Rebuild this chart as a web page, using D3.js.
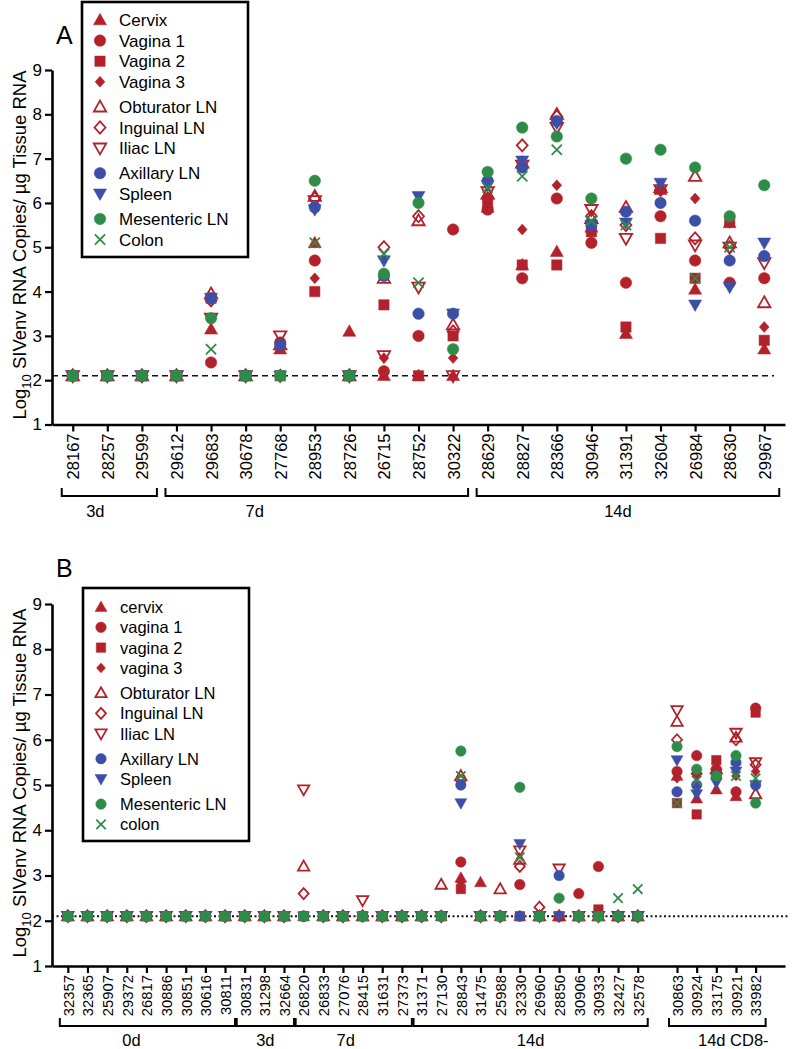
<!DOCTYPE html>
<html>
<head>
<meta charset="utf-8">
<title>SIVenv RNA in tissues</title>
<script src="https://d3js.org/d3.v7.min.js"></script>
<style>
    body { margin:0; background:#fff; }
    svg { display:block; font-family:"Liberation Sans", Arial, Helvetica, sans-serif; }
</style>
</head>
<body>
<svg id="chart" width="797" height="1049"></svg>
<script>

// ---------- data: panel A ----------
const idsA = ['28167','28257','29599',
              '29612','29683','30678','27768','28953','28726','26715','28752','30322',
              '28629','28827','28366','30946','31391','32604','26984','28630','29967'];
const groupLabelsA = ['3d', '7d', '14d'];
const groupFirstA  = ['28167', '29612', '28629'];
const groupLastA   = ['29599', '30322', '29967'];
const tissuesA = ['Cervix','Vagina 1','Vagina 2','Vagina 3','Obturator LN','Inguinal LN',
                  'Iliac LN','Axillary LN','Spleen','Mesenteric LN','Colon'];

const cervixA     = [2.1,2.1,2.1, 2.1,3.15,2.1,2.7,5.1,3.1,2.1,2.1,2.1,  5.9,4.6,4.9,5.45,3.05,6.3,4.05,5.55,2.7];
const vagina1A    = [2.1,2.1,2.1, 2.1,2.4,2.1,2.85,4.7,2.1,2.2,3.0,5.4,  5.85,4.3,6.1,5.1,4.2,5.7,4.7,4.2,4.3];
const vagina2A    = [2.1,2.1,2.1, 2.1,3.85,2.1,2.1,4.0,2.1,3.7,2.1,3.0,  6.0,4.6,4.6,5.35,3.2,5.2,4.3,5.6,2.9];
const vagina3A    = [2.1,2.1,2.1, 2.1,3.85,2.1,2.1,4.3,2.1,2.5,3.0,2.5,  6.1,5.4,6.4,5.45,3.2,6.3,6.1,5.55,3.2];
const obturatorA  = [2.1,2.1,2.1, 2.1,3.95,2.1,2.8,6.15,2.1,4.3,5.6,3.25, 6.2,6.9,8.0,5.65,5.9,6.35,6.6,5.1,3.75];
const inguinalA   = [2.1,2.1,2.1, 2.1,3.8,2.1,2.1,6.1,2.1,5.0,5.7,3.1,  6.1,7.3,7.95,5.7,5.5,6.3,5.2,5.0,null];
const iliacA      = [2.1,2.1,2.1, 2.1,3.4,2.1,3.0,6.05,2.1,2.55,4.1,2.1, 6.25,6.85,7.7,5.85,5.2,6.3,5.05,5.0,4.65];
const axillaryA   = [2.1,2.1,2.1, 2.1,3.85,2.1,2.8,5.9,2.1,4.35,3.5,3.5, 6.5,6.8,7.85,5.5,5.8,6.0,5.6,4.7,4.8];
const spleenA     = [2.1,2.1,2.1, 2.1,3.85,2.1,2.1,5.85,2.1,4.7,6.15,3.5, 6.4,6.95,7.8,5.5,5.55,6.45,3.7,4.1,5.1];
const mesentericA = [2.1,2.1,2.1, 2.1,3.4,2.1,2.1,6.5,2.1,4.4,6.0,2.7,  6.7,7.7,7.5,6.1,7.0,7.2,6.8,5.7,6.4];
const colonA      = [2.1,2.1,2.1, 2.1,2.7,2.1,2.1,5.1,2.1,4.85,4.2,null, 6.35,6.6,7.2,5.6,5.5,null,4.3,5.0,null];

// ---------- data: panel B ----------
const idsB = ['32357','32365','25907','29372','26817','30886','30851','30616','30811',
              '30831','31298','32664',
              '26820','26833','27076','28415','31631','27373',
              '31371','27130','28843','31475','25988','32330','26960','28850','30906','30933','32427','32578',
              '30863','30924','33175','30921','33982'];
const groupLabelsB = ['0d', '3d', '7d', '14d', '14d CD8-'];
const groupFirstB  = ['32357', '30831', '26820', '31371', '30863'];
const groupLastB   = ['30811', '32664', '27373', '32578', '33982'];
const tissuesB = ['cervix','vagina 1','vagina 2','vagina 3','Obturator LN','Inguinal LN',
                  'Iliac LN','Axillary LN','Spleen','Mesenteric LN','colon'];

const cervixB = [2.1,2.1,2.1,2.1,2.1,2.1,2.1,2.1,2.1, 2.1,2.1,2.1, 2.1,2.1,2.1,2.1,2.1,2.1,
    2.1,2.1,2.95,2.85,2.1,2.1,2.1,2.1,2.1,2.1,2.1,2.1, 5.2,4.7,4.9,4.75,null];
const vagina1B = [2.1,2.1,2.1,2.1,2.1,2.1,2.1,2.1,2.1, 2.1,2.1,2.1, 2.1,2.1,2.1,2.1,2.1,2.1,
    2.1,2.1,3.3,2.1,2.1,2.8,2.1,2.1,2.6,3.2,2.1,2.1, 5.3,5.65,5.35,4.85,6.7];
const vagina2B = [2.1,2.1,2.1,2.1,2.1,2.1,2.1,2.1,2.1, 2.1,2.1,2.1, 2.1,2.1,2.1,2.1,2.1,2.1,
    2.1,2.1,2.7,2.1,2.1,2.1,2.1,2.1,2.1,2.25,2.1,2.1, 4.6,4.35,5.55,null,6.6];
const vagina3B = [2.1,2.1,2.1,2.1,2.1,2.1,2.1,2.1,2.1, 2.1,2.1,2.1, 2.1,2.1,2.1,2.1,2.1,2.1,
    2.1,2.1,2.85,2.1,2.1,2.1,2.1,2.1,2.1,2.1,2.1,2.1, 5.15,5.25,5.35,5.2,5.3];
const obturatorB = [2.1,2.1,2.1,2.1,2.1,2.1,2.1,2.1,2.1, 2.1,2.1,2.1, 3.2,2.1,2.1,2.1,2.1,2.1,
    2.1,2.8,5.2,2.1,2.7,3.35,2.1,2.1,2.1,2.1,2.1,2.1, 6.4,null,5.35,6.05,4.8];
const inguinalB = [2.1,2.1,2.1,2.1,2.1,2.1,2.1,2.1,2.1, 2.1,2.1,2.1, 2.6,2.1,2.1,2.1,2.1,2.1,
    2.1,2.1,5.1,2.1,2.1,3.2,2.3,2.1,2.1,2.1,2.1,2.1, 6.0,5.25,5.35,6.0,5.45];
const iliacB = [2.1,2.1,2.1,2.1,2.1,2.1,2.1,2.1,2.1, 2.1,2.1,2.1, 4.9,2.1,2.1,2.45,2.1,2.1,
    2.1,2.1,null,2.1,2.1,3.55,2.1,3.15,2.1,2.1,2.1,2.1, 6.65,null,null,6.15,5.5];
const axillaryB = [2.1,2.1,2.1,2.1,2.1,2.1,2.1,2.1,2.1, 2.1,2.1,2.1, 2.1,2.1,2.1,2.1,2.1,2.1,
    2.1,2.1,5.0,2.1,2.1,2.1,2.1,3.0,2.1,2.1,2.1,2.1, 4.85,5.0,5.2,5.5,5.0];
const spleenB = [2.1,2.1,2.1,2.1,2.1,2.1,2.1,2.1,2.1, 2.1,2.1,2.1, 2.1,2.1,2.1,2.1,2.1,2.1,
    2.1,2.1,4.6,2.1,2.1,3.7,2.1,2.1,2.1,2.1,2.1,2.1, 5.55,4.8,5.05,5.3,5.0];
const mesentericB = [2.1,2.1,2.1,2.1,2.1,2.1,2.1,2.1,2.1, 2.1,2.1,2.1, 2.1,2.1,2.1,2.1,2.1,2.1,
    2.1,2.1,5.75,2.1,2.1,4.95,2.1,2.5,2.1,2.1,2.1,2.1, 5.85,5.35,5.2,5.65,4.6];
const colonB = [2.1,2.1,2.1,2.1,2.1,2.1,2.1,2.1,2.1, 2.1,2.1,2.1, 2.1,2.1,2.1,2.1,2.1,2.1,
    2.1,2.1,5.2,2.1,2.1,3.4,2.1,null,2.1,2.1,2.5,2.7, 4.6,5.1,null,5.2,5.15];

const detectionLimit = 2.1;
const yTicks = [1,2,3,4,5,6,7,8,9];

// ---------- styles ----------
const red = '#b3222b', blue = '#3b4fa6', green = '#2f8c48';

// custom symbol shapes, size = diameter^2
const shapes = {
    circle:  {draw(c, s) { const r = Math.sqrt(s) / 2; c.moveTo(r, 0); c.arc(0, 0, r, 0, 2 * Math.PI); }},
    square:  {draw(c, s) { const h = Math.sqrt(s) / 2 * 0.9; c.rect(-h, -h, 2 * h, 2 * h); }},
    up:      {draw(c, s) { const r = Math.sqrt(s) / 2; c.moveTo(0, -r * 1.1); c.lineTo(r * 1.08, r * 0.8); c.lineTo(-r * 1.08, r * 0.8); c.closePath(); }},
    down:    {draw(c, s) { const r = Math.sqrt(s) / 2; c.moveTo(0, r * 1.1); c.lineTo(r * 1.08, -r * 0.8); c.lineTo(-r * 1.08, -r * 0.8); c.closePath(); }},
    diamond: {draw(c, s) { const r = Math.sqrt(s) / 2; c.moveTo(0, -r * 1.05); c.lineTo(r * 0.95, 0); c.lineTo(0, r * 1.05); c.lineTo(-r * 0.95, 0); c.closePath(); }},
    times:   {draw(c, s) { const r = Math.sqrt(s) / 2 * 0.85; c.moveTo(-r, -r); c.lineTo(r, r); c.moveTo(r, -r); c.lineTo(-r, r); }}
};

const markerStyles = [
    {shape: 'up',      color: red,   open: false, k: 1.05},
    {shape: 'circle',  color: red,   open: false, k: 1.0},
    {shape: 'square',  color: red,   open: false, k: 1.0},
    {shape: 'diamond', color: red,   open: false, k: 0.9},
    {shape: 'up',      color: red,   open: true,  k: 1.0},
    {shape: 'diamond', color: red,   open: true,  k: 1.0},
    {shape: 'down',    color: red,   open: true,  k: 1.0},
    {shape: 'circle',  color: blue,  open: false, k: 1.0},
    {shape: 'down',    color: blue,  open: false, k: 1.05},
    {shape: 'circle',  color: green, open: false, k: 1.0},
    {shape: 'times',   color: green, open: true,  k: 1.05}
];
const legendGroup = [0,0,0,0,1,1,1,2,2,3,3];

const svg = d3.select('#chart');

function marker(sel, style, size) {
    const sym = d3.symbol().type(shapes[style.shape]).size(size * style.k * size * style.k);
    sel.attr('d', sym)
       .attr('fill', style.open ? 'none' : style.color)
       .attr('stroke', style.color)
       .attr('stroke-width', style.open ? 1.8 : 0.5);
}

function drawPanel(cfg) {
    const g = svg.append('g');

    const x = d3.scalePoint()
        .domain(cfg.domain)
        .range([52, 785])
        .padding(cfg.padding)
        .align(cfg.align);
    const y = d3.scaleLinear().domain([1, 9]).range([cfg.yBottom, cfg.yTop]);

    // detection limit line
    g.append('line')
        .attr('x1', 52).attr('x2', cfg.lodEnd)
        .attr('y1', y(detectionLimit)).attr('y2', y(detectionLimit))
        .attr('stroke', '#111')
        .attr('stroke-width', cfg.lodWidth)
        .attr('stroke-dasharray', cfg.lodDash);

    // points, drawn in legend order
    cfg.values.forEach((series, si) => {
        const pts = series.map((v, i) => ({id: cfg.ids[i], v: v})).filter(d => d.v !== null);
        g.append('g').selectAll('path')
            .data(pts)
            .join('path')
            .attr('transform', d => `translate(${x(d.id)},${y(d.v)})`)
            .call(marker, markerStyles[si], cfg.markerSize);
    });

    // y axis
    const yAxis = g.append('g')
        .attr('transform', 'translate(52,0)')
        .call(d3.axisLeft(y).tickValues(yTicks).tickFormat(d3.format('d')).tickSize(7).tickSizeOuter(0).tickPadding(3));
    yAxis.select('.domain').attr('stroke-width', 2.6).attr('stroke', '#000');
    yAxis.selectAll('.tick line').attr('stroke-width', 2.2).attr('stroke', '#000');
    yAxis.selectAll('.tick text').attr('font-size', 17).attr('fill', '#000')
        .attr('font-family', '"Liberation Sans", Arial, sans-serif');

    // x axis
    const xAxis = g.append('g')
        .attr('transform', `translate(0,${cfg.yBottom})`)
        .call(d3.axisBottom(x).tickValues(cfg.ids).tickSize(7).tickSizeOuter(0));
    xAxis.select('.domain').attr('stroke-width', 2.6).attr('stroke', '#000');
    xAxis.selectAll('.tick line').attr('stroke-width', 2.2).attr('stroke', '#000');
    xAxis.selectAll('.tick text')
        .attr('font-size', cfg.xFont).attr('fill', '#000')
        .attr('font-family', '"Liberation Sans", Arial, sans-serif')
        .attr('transform', 'rotate(-90)')
        .attr('text-anchor', 'end')
        .attr('x', -9).attr('y', 0).attr('dy', '0.36em');

    // group brackets
    cfg.groupLabels.forEach((lab, i) => {
        const x0 = x(cfg.groupFirst[i]) - cfg.bracketLeft;
        const x1 = x(cfg.groupLast[i]) + cfg.bracketRight;
        g.append('path')
            .attr('d', `M${x0},${cfg.bracketY - 8}V${cfg.bracketY}H${x1}V${cfg.bracketY - 8}`)
            .attr('fill', 'none').attr('stroke', '#000').attr('stroke-width', 2);
        g.append('text')
            .attr('x', (x0 + x1) / 2 + cfg.groupLabelShift[i])
            .attr('y', cfg.bracketY + cfg.groupLabelDy)
            .attr('text-anchor', 'middle')
            .attr('font-size', 16.5)
            .text(lab);
    });

    // y title
    const t = g.append('text')
        .attr('transform', `translate(26,${cfg.titleY}) rotate(-90)`)
        .attr('text-anchor', 'middle')
        .attr('font-size', 18.5);
    t.append('tspan').text('Log');
    t.append('tspan').attr('font-size', 13).attr('dy', 5).text('10');
    t.append('tspan').attr('dy', -5).text(' SIVenv RNA Copies/ \u00b5g Tissue RNA');

    // panel letter
    g.append('text').attr('x', 56).attr('y', cfg.letterY)
        .attr('font-size', 25).text(cfg.letter);

    // legend
    const lg = g.append('g');
    lg.append('rect')
        .attr('x', cfg.legend.x).attr('y', cfg.legend.y)
        .attr('width', cfg.legend.w).attr('height', cfg.legend.h)
        .attr('fill', '#fff').attr('stroke', '#000').attr('stroke-width', 2.6);
    cfg.tissues.forEach((name, i) => {
        const ly = cfg.legend.first + i * cfg.legend.step + legendGroup[i] * cfg.legend.gap;
        lg.append('path')
            .attr('transform', `translate(${cfg.legend.x + 18},${ly})`)
            .call(marker, markerStyles[i], cfg.markerSize);
        lg.append('text')
            .attr('x', cfg.legend.x + 37).attr('y', ly).attr('dy', '0.36em')
            .attr('font-size', cfg.legend.font)
            .text(name);
    });
}

drawPanel({
    letter: 'A', letterY: 44,
    ids: idsA, domain: idsA, padding: 0.6, align: 0.5,
    values: [cervixA, vagina1A, vagina2A, vagina3A, obturatorA, inguinalA, iliacA,
             axillaryA, spleenA, mesentericA, colonA],
    tissues: tissuesA,
    yTop: 70, yBottom: 424.5,
    markerSize: 11.5,
    lodEnd: 774, lodDash: '6,4', lodWidth: 1.7,
    xFont: 16.5,
    groupLabels: groupLabelsA, groupFirst: groupFirstA, groupLast: groupLastA,
    bracketY: 496, bracketLeft: 11, bracketRight: 15, groupLabelShift: [-14, -62, -10], groupLabelDy: 21,
    titleY: 245,
    legend: {x: 82, y: 2, w: 166, h: 255, first: 20, step: 20.6, gap: 4.5, font: 17}
});

drawPanel({
    letter: 'B', letterY: 577,
    ids: idsB,
    domain: [...idsB.slice(0, 30), 'gap', ...idsB.slice(30)],
    padding: 1.15, align: 0.35,
    values: [cervixB, vagina1B, vagina2B, vagina3B, obturatorB, inguinalB, iliacB,
             axillaryB, spleenB, mesentericB, colonB],
    tissues: tissuesB,
    yTop: 604, yBottom: 966,
    markerSize: 10.5,
    lodEnd: 790, lodDash: '2,2.5', lodWidth: 1.8,
    xFont: 14.8,
    groupLabels: groupLabelsB, groupFirst: groupFirstB, groupLast: groupLastB,
    bracketY: 1026, bracketLeft: 8, bracketRight: 10, groupLabelShift: [-16, 0, -8, 0, 16], groupLabelDy: 20,
    titleY: 783,
    legend: {x: 83, y: 588, w: 166, h: 253, first: 607, step: 20.3, gap: 4.8, font: 16.5}
});

</script>
</body>
</html>
